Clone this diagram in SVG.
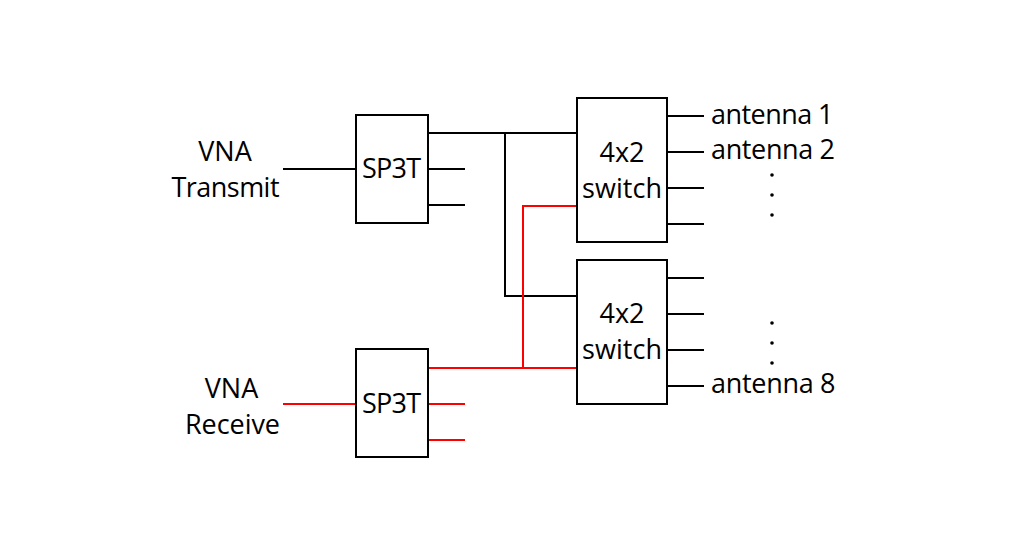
<svg xmlns="http://www.w3.org/2000/svg" width="1024" height="550" viewBox="0 0 1024 550">
<style>
.box{fill:#fff;stroke:#000;stroke-width:2}
.k{fill:none;stroke:#000;stroke-width:2}
.r{fill:none;stroke:#f00;stroke-width:2}
text{font-family:"Open Sans","Noto Sans",sans-serif;font-size:27px;fill:#000}
.m{text-anchor:middle}
.e{text-anchor:end}
</style>
<rect width="1024" height="550" fill="#fff"/>
<g id="connectors">
<path class="k" d="M283 169H356M428 133H577M505 133V296H577M428 169H465M428 205H465M667 116H704M667 152H704M667 188H704M667 224H704M667 278H704M667 314H704M667 350H704M667 386H704"/>
<path class="r" d="M283 404H356M428 368H577M523 368V206H577M428 404H465M428 440H465"/>
</g>
<g id="sp3t-top"><rect class="box" x="356" y="115" width="72" height="108"/><text x="362" y="178" textLength="59">SP3T</text></g>
<g id="sp3t-bottom"><rect class="box" x="356" y="349" width="72" height="108"/><text x="362" y="412.500" textLength="59">SP3T</text></g>
<g id="switch-top"><rect class="box" x="577" y="98" width="90" height="144"/><text class="m" x="622" y="162">4x2</text><text x="582" y="197.500" textLength="80">switch</text></g>
<g id="switch-bottom"><rect class="box" x="577" y="260" width="90" height="144"/><text class="m" x="622" y="323">4x2</text><text x="582" y="359" textLength="80">switch</text></g>
<g id="vna-transmit"><text class="m" x="225" y="161">VNA</text><text x="171.500" y="197" textLength="108">Transmit</text></g>
<g id="vna-receive"><text class="m" x="231.500" y="398">VNA</text><text x="185" y="434" textLength="95">Receive</text></g>
<g id="antennas">
<text x="711" y="123.500" textLength="122.500">antenna 1</text><text x="711" y="158.500" textLength="124">antenna 2</text><text x="711" y="392.500" textLength="124.500">antenna 8</text>
<circle cx="772" cy="175" r="1.800"/><circle cx="772" cy="195" r="1.800"/><circle cx="772" cy="215" r="1.800"/>
<circle cx="772" cy="323" r="1.800"/><circle cx="772" cy="343" r="1.800"/><circle cx="772" cy="363" r="1.800"/>
</g>
</svg>
